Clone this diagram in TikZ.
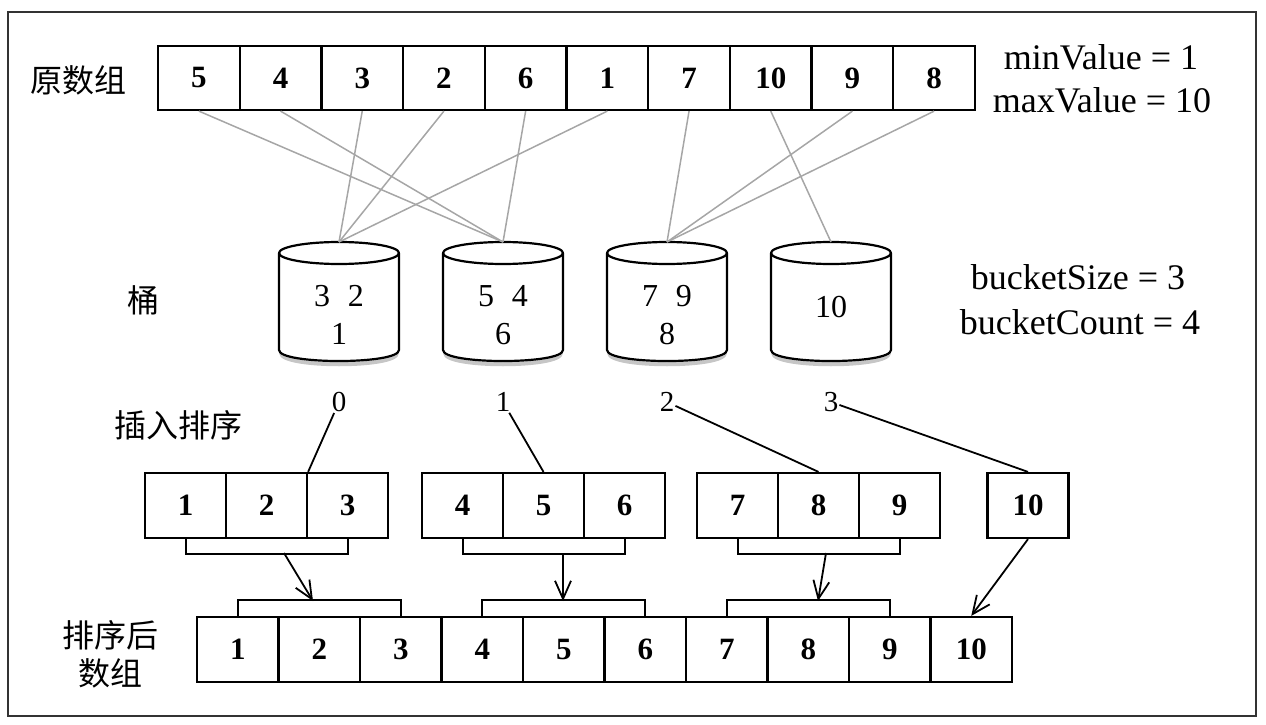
\documentclass[tikz,border=0pt]{standalone}
\usepackage{fontspec}
\setmainfont{Liberation Serif}
\newfontfamily\cjk{Noto Sans CJK SC}
\usetikzlibrary{arrows.meta}
\begin{document}
\begin{tikzpicture}[x=1pt,y=-1pt,
  cell/.style={draw, line width=2.2pt, minimum width=81.6pt, minimum height=64pt, inner sep=0pt,
    font=\fontsize{31}{36}\selectfont\bfseries},
  gcell/.style={cell, minimum width=81pt, minimum height=65pt},
  scell/.style={cell, minimum width=81.5pt, minimum height=65pt},
  cjklabel/.style={font=\cjk\fontsize{32}{38}\selectfont, align=center, inner sep=0pt},
  info/.style={font=\fontsize{36}{44}\selectfont, inner sep=0pt},
  idx/.style={font=\fontsize{29}{34}\selectfont, inner sep=1pt},
  intext/.style={font=\fontsize{32}{40}\selectfont, align=center, inner sep=0pt},
  feed/.style={draw=gray!70, line width=1.5pt},
  cyl/.style={draw, line width=2.2pt, line join=round},
  brk/.style={draw, line width=2pt},
  lnk/.style={draw, line width=1.8pt},
  arr/.style={draw, line width=1.8pt, -{Straight Barb[length=18pt,width=16pt,line width=1.8pt]}}
]
\useasboundingbox (0,0) rectangle (1266,725);
\draw[line width=2pt, black!80] (8,12) rectangle (1256,716);

% original array
\node[cjklabel] (lorig) at (78,80) {原数组};
\foreach \v [count=\i] in {5,4,3,2,6,1,7,10,9,8}
  \node[cell] (t\i) at ({158+81.7*(\i-0.5)},78) {\v};
\node[info] (minv) at (1101,57) {minValue = 1};
\node[info] (maxv) at (1102,100) {maxValue = 10};

% buckets
\node[cjklabel] (lbucket) at (143,300) {桶};
\foreach \c [count=\k from 0] in {339,503,667,831} {
  \coordinate (bt\k) at (\c,242);
  \draw[gray!45, line width=4pt] (\c-58,353) .. controls (\c-58,368) and (\c+58,368) .. (\c+58,353);
  \draw[cyl, fill=white] (\c-60,253) -- (\c-60,350) .. controls (\c-60,364.7) and (\c+60,364.7) .. (\c+60,350) -- (\c+60,253);
  \draw[cyl] (\c,253) ellipse [x radius=60, y radius=11];
}
\node[intext] (c0) at (339,315) {3\hspace{0.55em}2\\[-2pt]1};
\node[intext] (c1) at (503,315) {5\hspace{0.55em}4\\[-2pt]6};
\node[intext] (c2) at (667,315) {7\hspace{0.55em}9\\[-2pt]8};
\node[intext] (c3) at (831,307) {10};
\node[info] (bsize) at (1078,277) {bucketSize = 3};
\node[info] (bcount) at (1080,322) {bucketCount = 4};

\foreach \i/\b in {1/1,2/1,3/0,4/0,5/1,6/0,7/2,8/3,9/2,10/2}
  \draw[feed] (t\i.south) -- (bt\b);

% insertion sort
\node[cjklabel] (lins) at (178,425) {插入排序};
\foreach \c [count=\k from 0] in {339,503,667,831}
  \node[idx] (l\k) at (\c,402) {\k};

\foreach \v [count=\i] in {1,2,3} \node[gcell] (ga\i) at ({145+81*(\i-0.5)},505.5) {\v};
\foreach \v [count=\i] in {4,5,6} \node[gcell] (gb\i) at ({422+81*(\i-0.5)},505.5) {\v};
\foreach \v [count=\i] in {7,8,9} \node[gcell] (gc\i) at ({697+81*(\i-0.5)},505.5) {\v};
\node[gcell] (gd1) at (1028,505.5) {10};

\draw[lnk] (l0) -- (ga2.north east);
\draw[lnk] (l1) -- (gb2.north);
\draw[lnk] (l2) -- (gc2.north);
\draw[lnk] (l3) -- (gd1.north);

\draw[brk] (ga1.south) -- ++(0,15) -| (ga3.south);
\draw[brk] (gb1.south) -- ++(0,15) -| (gb3.south);
\draw[brk] (gc1.south) -- ++(0,15) -| (gc3.south);

% sorted array
\node[cjklabel] (lsorted) at (110,654) {排序后\\数组};
\foreach \v [count=\i] in {1,...,10}
  \node[scell] (s\i) at ({197+81.5*(\i-0.5)},649.5) {\v};
\draw[brk] (s1.north) -- ++(0,-16) -| (s3.north);
\draw[brk] (s4.north) -- ++(0,-16) -| (s6.north);
\draw[brk] (s7.north) -- ++(0,-16) -| (s9.north);

\coordinate (a1s) at (284,553); \coordinate (a1e) at (313,601);
\coordinate (a2s) at (563,553); \coordinate (a2e) at (563,601);
\coordinate (a3s) at (826,553); \coordinate (a3e) at (818,601);
\draw[arr] (a1s) -- (a1e);
\draw[arr] (a2s) -- (a2e);
\draw[arr] (a3s) -- (a3e);
\draw[arr] (gd1.south) -- (s10.north);
\end{tikzpicture}
\end{document}
